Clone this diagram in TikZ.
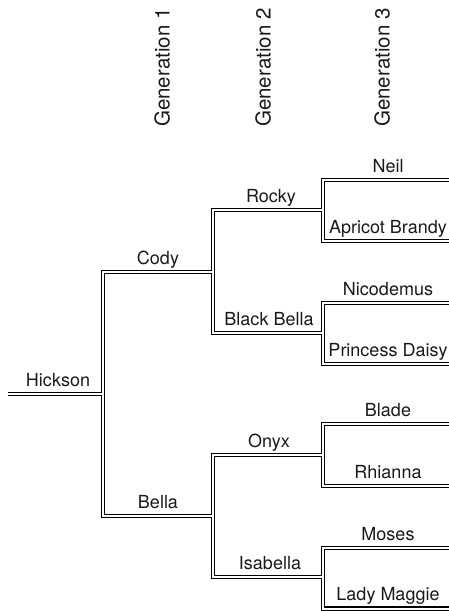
\documentclass[tikz,border=0pt]{standalone}
\usepackage{fontspec}
\setmainfont{TeX Gyre Heros}
\begin{document}
\begin{tikzpicture}[x=1pt,y=-1pt,
  person/.style={anchor=base, inner sep=0pt, font=\fontsize{18}{20}\selectfont, text=black!90},
  genlabel/.style={rotate=90, anchor=mid west, inner sep=0pt, font=\fontsize{20.5}{22}\selectfont, text=black!90},
  pedblack/.style={line width=4.2pt, draw=black, line join=miter},
  pedwhite/.style={line width=2.0pt, draw=white, line join=miter}]
\useasboundingbox (0,0) rectangle (449,611);

% generation headings
\node[genlabel] (gen1) at (167,127) {Generation 1};
\node[genlabel] (gen2) at (268,127) {Generation 2};
\node[genlabel] (gen3) at (387,127) {Generation 3};

% line end points
\coordinate (hickL) at (8,394);   \coordinate (hickR) at (103,394);
\coordinate (codyL) at (103,272); \coordinate (codyR) at (213,272);
\coordinate (bellaL) at (103,516);\coordinate (bellaR) at (213,516);
\coordinate (rockyL) at (213,210);\coordinate (rockyR) at (323,210);
\coordinate (bbL) at (213,333);   \coordinate (bbR) at (323,333);
\coordinate (onyxL) at (213,455); \coordinate (onyxR) at (323,455);
\coordinate (isaL) at (213,577);  \coordinate (isaR) at (323,577);
\coordinate (neilL) at (323,180); \coordinate (neilR) at (455,180);
\coordinate (apL) at (323,241);   \coordinate (apR) at (455,241);
\coordinate (nicL) at (323,303);  \coordinate (nicR) at (455,303);
\coordinate (pdL) at (323,364);   \coordinate (pdR) at (455,364);
\coordinate (blL) at (323,424);   \coordinate (blR) at (455,424);
\coordinate (rhL) at (323,486);   \coordinate (rhR) at (455,486);
\coordinate (moL) at (323,548);   \coordinate (moR) at (455,548);
\coordinate (lmL) at (323,608.5); \coordinate (lmR) at (455,608.5);

% double lines: all black first, then all white, so joints merge
\foreach \st in {pedblack,pedwhite}{
  \draw[\st] (hickL) -- (hickR);
  \draw[\st] (codyR) -- (codyL) -- (bellaL) -- (bellaR);
  \draw[\st] (rockyR) -- (rockyL) -- (bbL) -- (bbR);
  \draw[\st] (onyxR) -- (onyxL) -- (isaL) -- (isaR);
  \draw[\st] (neilR) -- (neilL) -- (apL) -- (apR);
  \draw[\st] (nicR) -- (nicL) -- (pdL) -- (pdR);
  \draw[\st] (blR) -- (blL) -- (rhL) -- (rhR);
  \draw[\st] (moR) -- (moL) -- (lmL) -- (lmR);
}

% names
\node[person] (hickson) at (58,386) {Hickson};
\node[person] (cody) at (158,264) {Cody};
\node[person] (bella) at (158,508) {Bella};
\node[person] (rocky) at (271,202) {Rocky};
\node[person] (blackbella) at (269,325) {Black Bella};
\node[person] (onyx) at (269,447) {Onyx};
\node[person] (isabella) at (270,569) {Isabella};
\node[person] (neil) at (388,172) {Neil};
\node[person] (apricot) at (388,233) {Apricot Brandy};
\node[person] (nicodemus) at (388,295) {Nicodemus};
\node[person] (princess) at (388,356) {Princess Daisy};
\node[person] (blade) at (388,416) {Blade};
\node[person] (rhianna) at (388,478) {Rhianna};
\node[person] (moses) at (388,540) {Moses};
\node[person] (ladymaggie) at (388,600) {Lady Maggie};
\end{tikzpicture}
\end{document}
